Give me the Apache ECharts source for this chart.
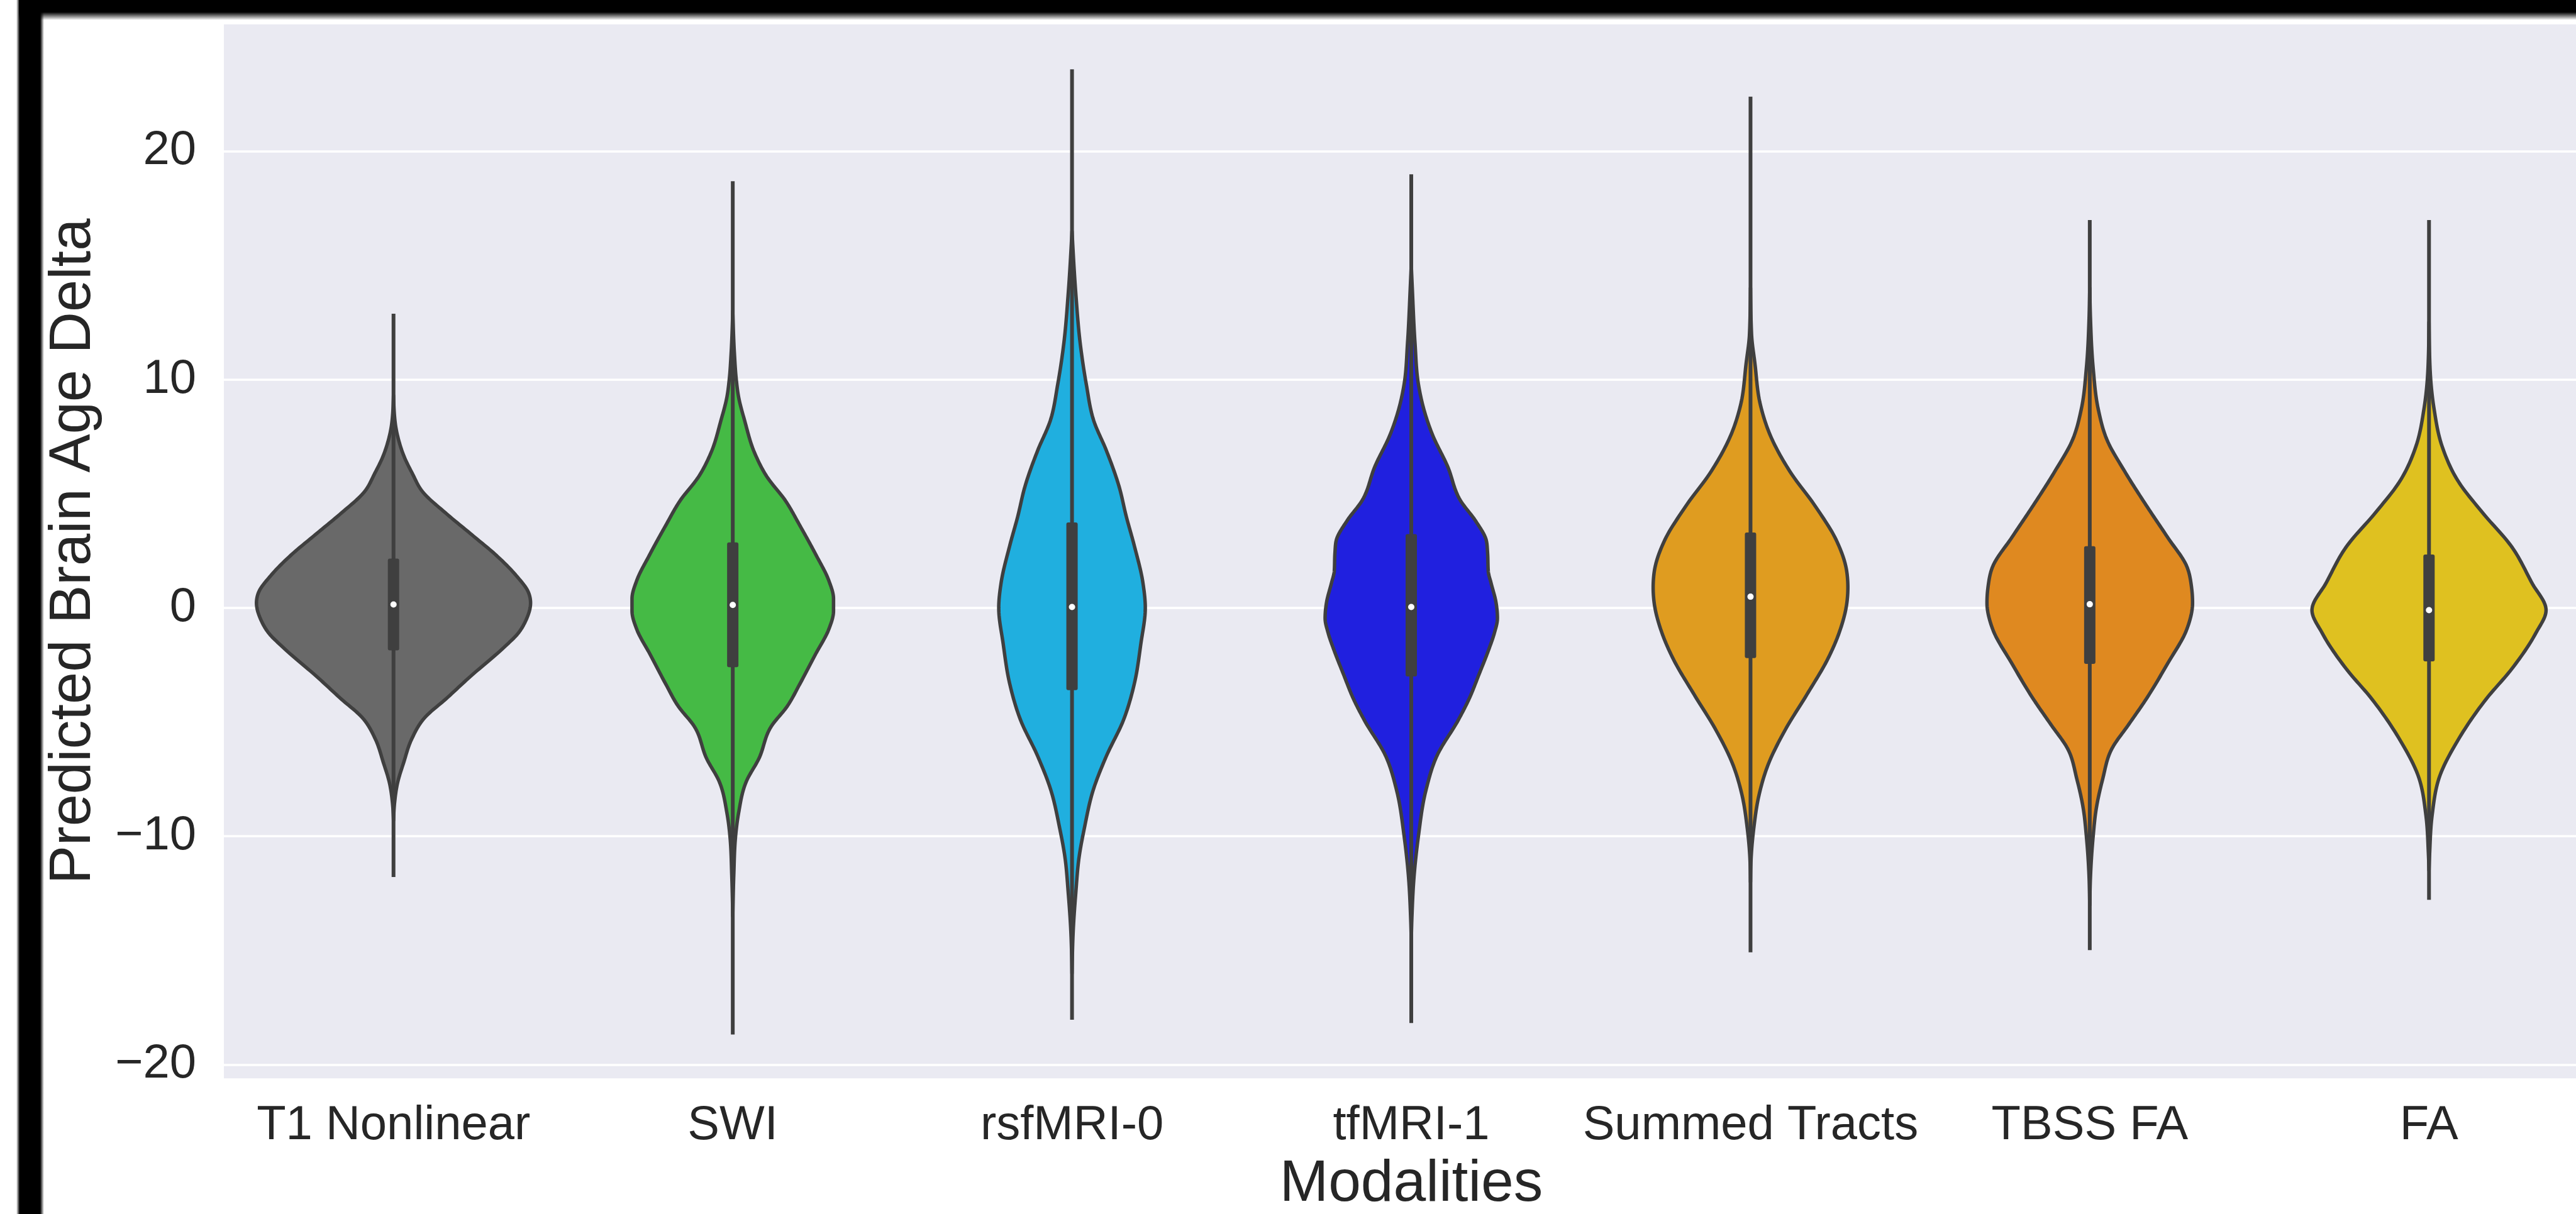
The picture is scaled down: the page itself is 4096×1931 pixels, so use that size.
<!DOCTYPE html>
<html><head><meta charset="utf-8">
<script src="https://cdn.jsdelivr.net/npm/echarts@6/dist/echarts.min.js"></script>
<style>html,body{margin:0;padding:0;background:#fff;overflow:hidden}#c{width:4096px;height:1931px}</style>
</head><body><div id="c"></div>
<script>
// ---- data ----
const categories = ['T1 Nonlinear', 'SWI', 'rsfMRI-0', 'tfMRI-1', 'Summed Tracts', 'TBSS FA', 'FA'];
const colors = ['#696969', '#45BA45', '#20AFDF', '#2020DF', '#DF9C20', '#DF8920', '#DFC120'];

// violin profiles: [value, half-width as fraction of category spacing], top to bottom
const t1Profile = [[9.3,0],[8.1,0.005],[7.3,0.016],[6.6,0.032],[5.9,0.055],[5.1,0.085],[4.1,0.158],[3.2,0.231],[2.3,0.303],[1.41,0.362],[0.67,0.398],[0.22,0.404],[-0.52,0.391],[-1.12,0.367],[-1.71,0.327],[-3.05,0.223],[-3.94,0.158],[-4.84,0.090],[-5.73,0.054],[-6.77,0.030],[-7.66,0.012],[-8.56,0.003],[-9.3,0]];
const swiProfile = [[13.0,0],[11.1,0.005],[10.05,0.010],[9.25,0.017],[8.2,0.035],[6.8,0.064],[5.76,0.10],[4.7,0.155],[3.6,0.198],[2.3,0.246],[1.2,0.283],[0.4,0.297],[-0.13,0.297],[-0.94,0.283],[-2.0,0.245],[-3.35,0.197],[-4.3,0.161],[-5.2,0.113],[-6.6,0.077],[-7.6,0.040],[-9.0,0.017],[-10.05,0.008],[-11.7,0.003],[-13.5,0]];
const rsfProfile = [[16.5,0],[13.8,0.011],[11.6,0.024],[9.8,0.042],[8.2,0.064],[6.9,0.101],[5.3,0.139],[4.0,0.160],[2.7,0.184],[1.1,0.209],[0,0.216],[-1.56,0.203],[-3.3,0.184],[-4.9,0.152],[-6.5,0.101],[-8.0,0.062],[-9.6,0.037],[-10.9,0.021],[-12.5,0.011],[-14.0,0.004],[-16.0,0]];
const tfProfile = [[15.0,0],[14.0,0.003],[11.6,0.011],[9.8,0.021],[8.7,0.037],[7.6,0.062],[6.2,0.107],[4.7,0.145],[3.8,0.190],[2.9,0.222],[2.4,0.225],[1.6,0.227],[1.1,0.235],[0.22,0.250],[-0.45,0.254],[-1.1,0.245],[-1.8,0.229],[-2.9,0.200],[-4.0,0.170],[-4.9,0.139],[-6.5,0.075],[-8.0,0.043],[-10.0,0.021],[-11.8,0.008],[-13.5,0.002],[-14.5,0]];
const summedProfile = [[14.0,0],[12.0,0.003],[10.7,0.013],[8.9,0.029],[7.6,0.057],[6.0,0.115],[4.45,0.191],[2.9,0.255],[1.56,0.284],[0.9,0.287],[0.22,0.284],[-1.1,0.261],[-2.2,0.229],[-3.8,0.166],[-5.35,0.102],[-6.9,0.051],[-8.2,0.025],[-9.6,0.010],[-10.9,0.002],[-12.0,0]];
const tbssProfile = [[14.0,0],[12.7,0.002],[10.5,0.010],[8.7,0.025],[7.35,0.051],[6.0,0.102],[4.5,0.166],[3.1,0.229],[1.78,0.287],[0.9,0.300],[0.22,0.303],[-0.9,0.287],[-2.45,0.229],[-4.0,0.166],[-5.1,0.115],[-6.2,0.064],[-7.5,0.038],[-8.8,0.019],[-10.0,0.010],[-11.8,0.002],[-13.0,0]];
const faProfile = [[12.5,0],[10.5,0.003],[8.7,0.015],[7.1,0.038],[5.57,0.085],[4.2,0.156],[2.67,0.244],[1.1,0.303],[-0.1,0.345],[-1.1,0.315],[-2.67,0.244],[-4.0,0.168],[-5.8,0.085],[-7.35,0.032],[-9.1,0.009],[-10.7,0.002],[-11.5,0]];
const profiles = [t1Profile, swiProfile, rsfProfile, tfProfile, summedProfile, tbssProfile, faProfile];

const whiskerLow  = [-11.7, -18.6, -17.95, -18.1, -15.0, -14.9, -12.7];
const whiskerHigh = [12.8, 18.6, 23.5, 18.9, 22.3, 16.9, 16.9];
const q1Values     = [-1.86, -2.6, -3.6, -3.0, -2.2, -2.45, -2.34];
const medianValues = [0.15, 0.13, 0.04, 0.04, 0.49, 0.16, -0.1];
const q3Values     = [2.16, 2.87, 3.74, 3.23, 3.3, 2.7, 2.34];
const yMin = -20.65, yMax = 25.6;

// ---- smooth outline (monotone cubic through the read points, for drawing only) ----
function smoothOutline(prof) {
  const xs = prof.map(p => p[0]), ys = prof.map(p => p[1]);
  const n = xs.length, d = [], m = new Array(n).fill(0);
  for (let k = 0; k < n - 1; k++) d.push((ys[k + 1] - ys[k]) / (xs[k + 1] - xs[k]));
  for (let k = 1; k < n - 1; k++) {
    const h0 = xs[k] - xs[k - 1], h1 = xs[k + 1] - xs[k];
    const s0 = d[k - 1], s1 = d[k];
    const p = (s0 * h1 + s1 * h0) / (h0 + h1);
    m[k] = (Math.sign(s0) + Math.sign(s1)) * Math.min(Math.abs(s0), Math.abs(s1), 0.5 * Math.abs(p)) || 0;
  }
  m[0] = (3 * d[0] - m[1]) / 2;
  m[n - 1] = (3 * d[n - 2] - m[n - 2]) / 2;
  const out = [];
  const STEPS = 14;
  for (let k = 0; k < n - 1; k++) {
    const h = xs[k + 1] - xs[k];
    for (let s = 0; s < STEPS; s++) {
      const t = s / STEPS, t2 = t * t, t3 = t2 * t;
      const y = (2 * t3 - 3 * t2 + 1) * ys[k] + (t3 - 2 * t2 + t) * h * m[k] +
                (-2 * t3 + 3 * t2) * ys[k + 1] + (t3 - t2) * h * m[k + 1];
      out.push([xs[k] + t * h, Math.max(0, y)]);
    }
  }
  out.push([xs[n - 1], ys[n - 1]]);
  return out;
}
const outlines = profiles.map(smoothOutline);

// ---- chart ----
const LINE = '#3F3F3F';
const FONT = "'Liberation Sans', Arial, Helvetica, sans-serif";
const chart = echarts.init(document.getElementById('c'), null, {renderer: 'canvas'});

function renderViolin(params, api) {
  const i = api.value(0);
  const prof = outlines[i];
  const bw = api.size([1, 0])[0];
  const cx = api.coord([i, 0])[0];
  const right = prof.map(p => [cx + p[1] * bw, api.coord([i, p[0]])[1]]);
  const left = prof.slice().reverse().map(p => [cx - p[1] * bw, api.coord([i, p[0]])[1]]);
  const pts = right.concat(left.slice(1, left.length - 1));
  const yLo = api.coord([i, whiskerLow[i]])[1];
  const yHi = api.coord([i, whiskerHigh[i]])[1];
  const yQ1 = api.coord([i, q1Values[i]])[1];
  const yQ3 = api.coord([i, q3Values[i]])[1];
  const yMed = api.coord([i, medianValues[i]])[1];
  const boxW = 18;
  return {
    type: 'group',
    children: [
      {type: 'polygon', shape: {points: pts},
       style: {fill: colors[i], stroke: LINE, lineWidth: 5.5, lineJoin: 'round'}},
      {type: 'line', shape: {x1: cx, y1: yHi, x2: cx, y2: yLo},
       style: {stroke: LINE, lineWidth: 6, lineCap: 'square'}},
      {type: 'rect', shape: {x: cx - boxW / 2, y: yQ3, width: boxW, height: yQ1 - yQ3, r: 3},
       style: {fill: LINE}},
      {type: 'circle', shape: {cx: cx, cy: yMed, r: 5}, style: {fill: '#fff'}}
    ]
  };
}

const option = {
  animation: false,
  backgroundColor: '#ffffff',
  grid: {left: 356, top: 37, bottom: 214, width: 3776, show: true, backgroundColor: '#EAEAF2',
         borderWidth: 0, containLabel: false, outerBoundsMode: 'none'},
  xAxis: {
    type: 'category', data: categories, boundaryGap: true,
    axisLine: {show: false}, axisTick: {show: false}, splitLine: {show: false},
    axisLabel: {interval: 0, fontSize: 76, margin: 36, color: '#262626', fontFamily: FONT, hideOverlap: false},
    name: 'Modalities', nameLocation: 'middle', nameGap: 121,
    nameTextStyle: {fontSize: 93, color: '#262626', fontFamily: FONT}
  },
  yAxis: {
    type: 'value', min: yMin, max: yMax,
    axisLine: {show: false}, axisTick: {show: false},
    splitLine: {show: true, lineStyle: {color: '#ffffff', width: 3.5}},
    axisLabel: {fontSize: 76, margin: 44, color: '#262626', fontFamily: FONT,
      formatter: v => (Math.abs(v % 10) < 1e-6) ? (v < 0 ? '\u2212' + Math.abs(v) : String(v)) : ''},
    name: 'Predicted Brain Age Delta', nameLocation: 'middle', nameGap: 192,
    nameTextStyle: {fontSize: 92, color: '#262626', fontFamily: FONT}
  },
  series: [{
    type: 'custom',
    renderItem: renderViolin,
    encode: {x: 0, y: 1},
    data: categories.map((c, i) => [i, medianValues[i]]),
    clip: false,
    z: 5
  }],
  graphic: [
    {type: 'rect', z: 100, silent: true, shape: {x: 26, y: 0, width: 44, height: 1931},
     style: {fill: new echarts.graphic.LinearGradient(0, 0, 1, 0, [
       {offset: 0, color: 'rgba(0,0,0,0)'}, {offset: 0.12, color: '#000'},
       {offset: 0.86, color: '#000'}, {offset: 1, color: 'rgba(0,0,0,0)'}])}},
    {type: 'rect', z: 100, silent: true, shape: {x: 30, y: 0, width: 4066, height: 32},
     style: {fill: new echarts.graphic.LinearGradient(0, 0, 0, 1, [
       {offset: 0, color: '#000'}, {offset: 0.6, color: '#000'}, {offset: 1, color: 'rgba(0,0,0,0)'}])}}
  ]
};
chart.setOption(option);
</script>
</body></html>
